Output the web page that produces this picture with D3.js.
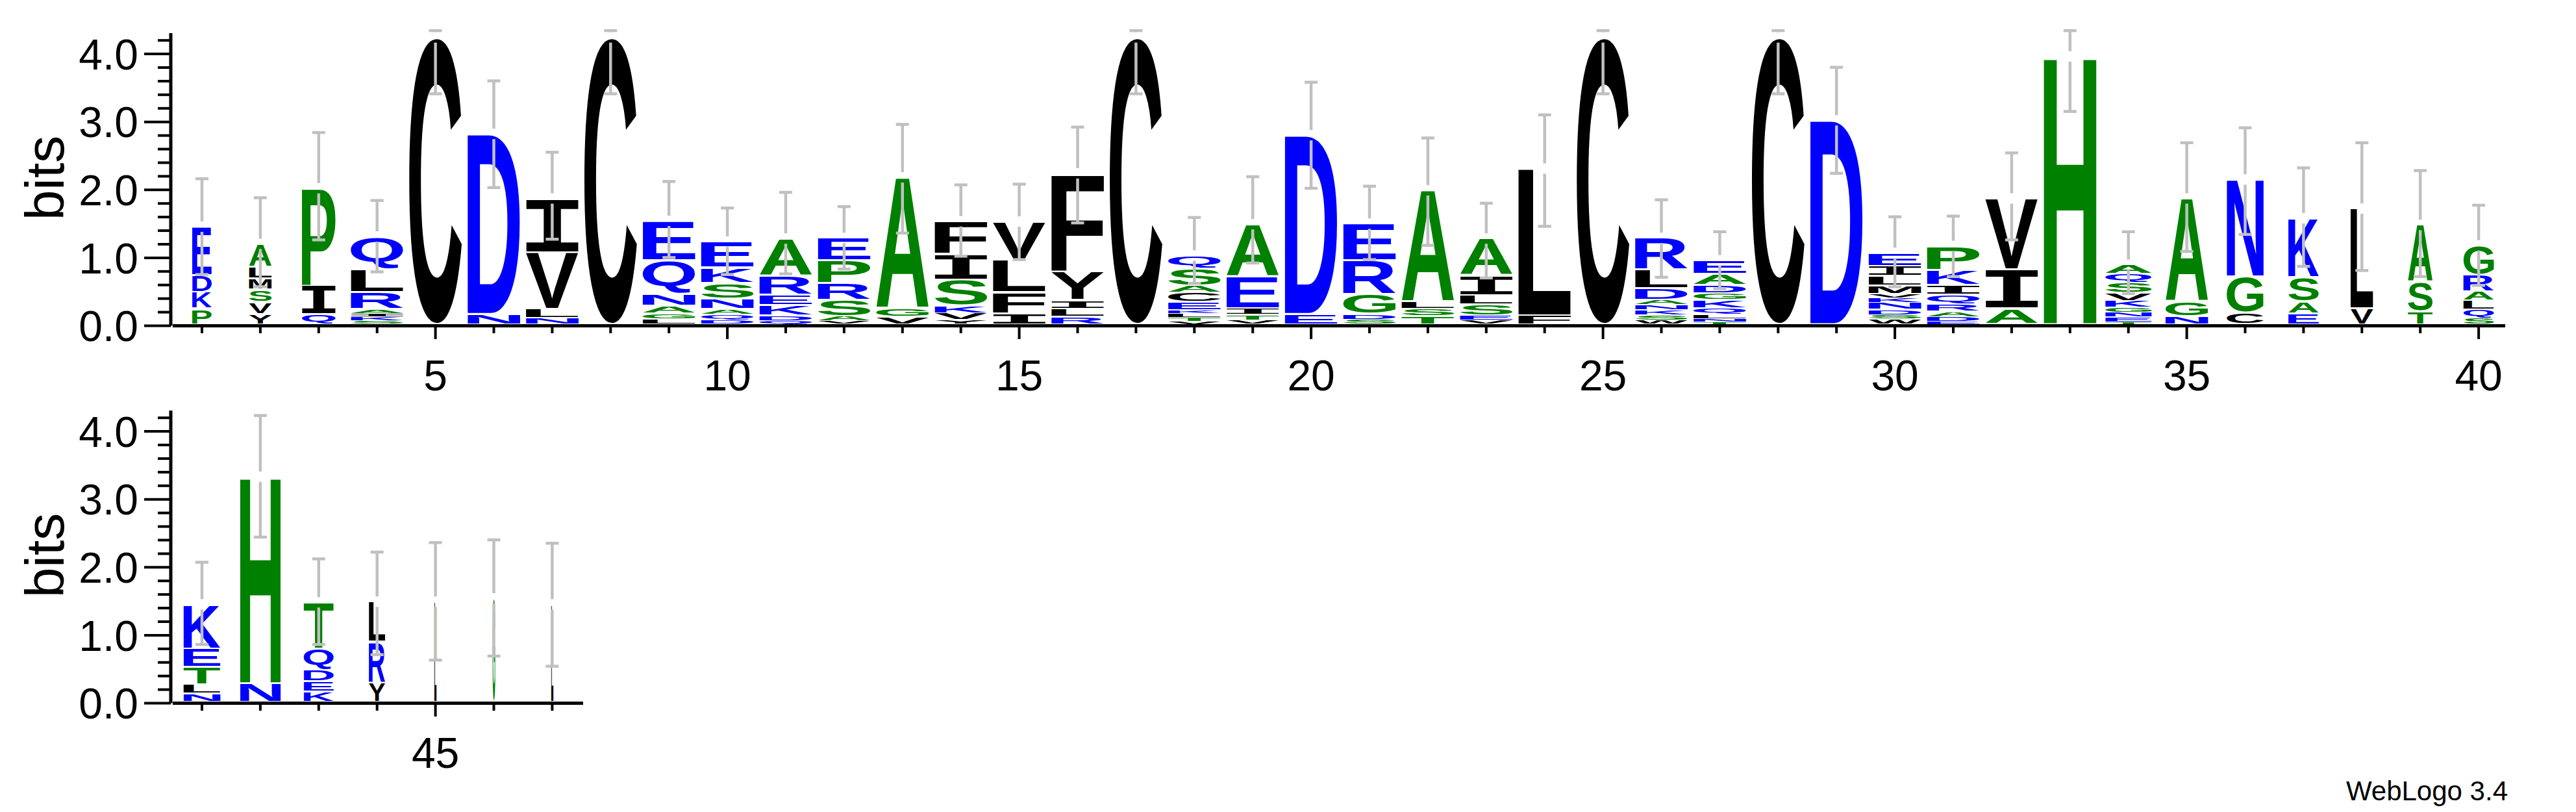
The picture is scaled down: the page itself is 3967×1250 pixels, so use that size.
<!DOCTYPE html>
<html><head><meta charset="utf-8">
<script src="https://cdnjs.cloudflare.com/ajax/libs/d3/7.8.5/d3.min.js"></script>
<style>html,body{margin:0;padding:0;background:#fff;}svg{display:block;}</style>
</head><body>
<svg id="c" width="3967" height="1250"></svg>
<script>
// ---- data ----
const positions = d3.range(1, 48);
const stackLetters = ["PKDE","YVSMLA","QIP","SKIARLQ","C","ND","NLVI","C","LGANQE","DQANSKE",
 "QDKERA","VASRPE","VGA","YVKSIF","IFLV","RLIYF","C","VTLKECASQ","VTIEA","ED",
 "SDGRE","TSLA","VESLIA","FL","C","WSKNADLR","TNLQKGDAE","C","D","WSDNKVMLIE",
 "EDARQIKP","AIV","H","TENGKVSQA","NGA","CGN","EASK","VL","TSA","SQLARG",
 "NLTEK","NH","KEDQT","YRL","L","G","L"];
const stackHeights = [
 [.23,.245,.25,.71],[.15,.18,.18,.16,.17,.34],[.15,.42,1.43],[.05,.06,.05,.06,.25,.34,.48],[4.22],
 [.15,2.65],[.09,.13,.84,.79],[4.22],[.08,.085,.11,.175,.49,.58],[.06,.085,.08,.15,.23,.23,.38],
 [.05,.08,.15,.15,.28,.55],[.05,.07,.24,.25,.33,.33],[.11,.12,1.93],[.064,.1,.11,.38,.38,.48],[.16,.31,.48,.56],
 [.11,.12,.13,.42,1.44],[4.22],[.04,.06,.06,.05,.12,.14,.1,.25,.19],[.06,.08,.09,.47,.77],[.15,2.63],
 [.07,.08,.29,.5,.54],[.12,.11,.1,1.64],[.06,.07,.16,.14,.29,.54],[.13,2.16],[4.22],
 [.06,.08,.07,.08,.07,.17,.27,.47],[.03,.05,.06,.1,.12,.1,.12,.16,.2],[4.22],[3.0],[.08,.06,.08,.1,.07,.06,.12,.14,.15,.19],
 [.04,.07,.08,.11,.14,.14,.22,.35],[.23,.58,1.04],[3.94],[.035,.07,.07,.07,.1,.12,.15,.13,.13],[.12,.21,1.52],
 [.17,.53,1.43],[.16,.17,.36,.87],[.23,1.47],[.19,.43,.84],[.09,.13,.13,.13,.25,.43],
 [.12,.13,.26,.27,.65],[.27,3.04],[.15,.15,.17,.31,.68],[.28,.6,.59],[1.47],[1.52],[1.43]];
const columnWeights = [.37,.43,.64,1,1,1,1,1,1,1, 1,1,1,1,1,1,1,1,1,1, 1,1,1,1,1,1,1,1,1,1,
 1,1,1,.88,.81,.7,.58,.43,.47,.58, .7,.77,.57,.31,.04,.05,.04];
const errLow = [.73,.55,1.24,.77,3.39,2.01,1.25,3.39,.98,.73, .74,.81,1.34,1.0,.95,1.49,3.39,.6,.9,2.0,
 .95,1.16,.68,1.44,3.39,.69,.52,3.39,2.22,.55, .7,1.24,3.13,.45,1.07,1.32,.85,.79,.7,.57,
 .84,2.42,.84,.69,.61,.67,.52];
const errHigh = [2.14,1.86,2.82,1.82,4.32,3.58,2.53,4.32,2.1,1.71, 1.94,1.73,2.94,2.05,2.06,2.9,4.32,1.57,2.17,3.56,
 2.03,2.74,1.78,3.08,4.32,1.83,1.36,4.32,3.78,1.58, 1.59,2.52,4.32,1.36,2.67,2.89,2.3,2.67,2.26,1.75,
 2.05,4.21,2.1,2.2,2.34,2.38,2.33];
const yTickLabels = ["0.0","1.0","2.0","3.0","4.0"];
const xTickLabels = [5,10,15,20,25,30,35,40,45];
const colorGroups = {blue:"RKDENQ", green:"SGHTAP", black:"YVMCLFIW"};
const colorValues = {blue:"#0000ff", green:"#008000", black:"#000000"};

// ---- layout ----
const svg = d3.select("#c");
const FONT = "Liberation Sans, Arial, Helvetica, sans-serif";
const IFONT = "DejaVu Sans Mono, Liberation Mono, monospace";
const panels = [{first:1,last:40,base:0,axisEnd:3858},{first:41,last:47,base:581,axisEnd:898}];
const colorOf = l => { for (const k in colorGroups) if (colorGroups[k].includes(l)) return colorValues[k]; return "#000"; };
const fontOf = l => l === "I" ? IFONT : FONT;

const cv = document.createElement("canvas").getContext("2d");
const metric = {};
function m(l){ if(!metric[l]){ cv.font = "bold 200px " + fontOf(l); const t=cv.measureText(l);
  metric[l]={L:t.actualBoundingBoxLeft,R:t.actualBoundingBoxRight,A:t.actualBoundingBoxAscent,D:t.actualBoundingBoxDescent}; } return metric[l]; }

panels.forEach(p => {
  const off = p.base;
  const y = d3.scaleLinear().domain([0,4]).range([499+off, 499+off-4*104.6]);
  const x = d3.scaleLinear().domain([p.first, p.first+39]).range([311, 311+39*89.9]);
  const g = svg.append("g");
  const full = 89.9*0.9;

  for (let pos = p.first; pos <= p.last; pos++) {
    const i = pos-1, letters = stackLetters[i], hs = stackHeights[i];
    const bw = full*columnWeights[i], cx = x(pos);
    let cum = 0;
    for (let k=0;k<letters.length;k++){
      const l = letters[k], h = hs[k];
      const yb = y(cum), yt = y(cum+h); cum += h;
      const pad = Math.min(1.5, (yb-yt)*0.1);
      const bx = cx-bw/2, by = yt+pad, bh = (yb-yt)-2*pad;
      if (bh <= 0.3) continue;
      const mm = m(l);
      const sx = bw/(mm.L+mm.R), sy = bh/(mm.A+mm.D);
      g.append("text").text(l)
        .attr("font-family",fontOf(l)).attr("font-weight","bold").attr("font-size",200)
        .attr("fill",colorOf(l))
        .attr("transform",`translate(${bx+mm.L*sx},${by+mm.A*sy}) scale(${sx},${sy})`);
    }
    const top = y(errHigh[i]), bot = y(errLow[i]), mid = y(cum);
    const eb = g.append("g").attr("stroke","#c0c0c0").attr("stroke-width",4.5);
    eb.append("line").attr("x1",cx).attr("x2",cx).attr("y1",top).attr("y2",Math.max(top,mid-8));
    eb.append("line").attr("x1",cx).attr("x2",cx).attr("y1",Math.min(bot,mid+8)).attr("y2",bot);
    eb.append("line").attr("x1",cx-10).attr("x2",cx+10).attr("y1",top).attr("y2",top);
    eb.append("line").attr("x1",cx-10).attr("x2",cx+10).attr("y1",bot).attr("y2",bot);
  }

  const axY = g.append("g").attr("stroke","#000");
  axY.append("line").attr("x1",263).attr("x2",263).attr("y1",501.5+off).attr("y2",51+off).attr("stroke-width",5);
  d3.range(0,22).forEach(j => {
    const yy = 501.5+off - j*0.2*104.6, major = j%5===0;
    axY.append("line").attr("x1",major?222:243).attr("x2",263).attr("y1",yy).attr("y2",yy).attr("stroke-width",4);
  });
  yTickLabels.forEach((t,j)=>{
    g.append("text").text(t).attr("x",213).attr("y",501.5+off-j*104.6).attr("dy","0.36em")
     .attr("text-anchor","end").attr("font-family",FONT).attr("font-size",66);
  });
  g.append("text").text("bits").attr("font-family",FONT).attr("font-size",84)
    .attr("text-anchor","middle").attr("transform",`translate(98,${274+off}) rotate(-90)`);

  const axX = g.append("g").attr("stroke","#000");
  axX.append("line").attr("x1",266).attr("x2",p.axisEnd).attr("y1",501.5+off).attr("y2",501.5+off).attr("stroke-width",5);
  for (let pos=p.first; pos<=p.last; pos++){
    const major = pos%5===0;
    axX.append("line").attr("x1",x(pos)).attr("x2",x(pos)).attr("y1",503+off).attr("y2",(major?522:513)+off).attr("stroke-width",4);
  }
  xTickLabels.filter(v=>v>=p.first && v<=p.last).forEach(v=>{
    g.append("text").text(v).attr("x",x(v)).attr("y",601+off).attr("text-anchor","middle")
     .attr("font-family",FONT).attr("font-size",66);
  });
});

svg.append("text").text("WebLogo 3.4").attr("x",3862).attr("y",1232).attr("text-anchor","end")
  .attr("font-family",FONT).attr("font-size",42);
</script>
</body></html>
